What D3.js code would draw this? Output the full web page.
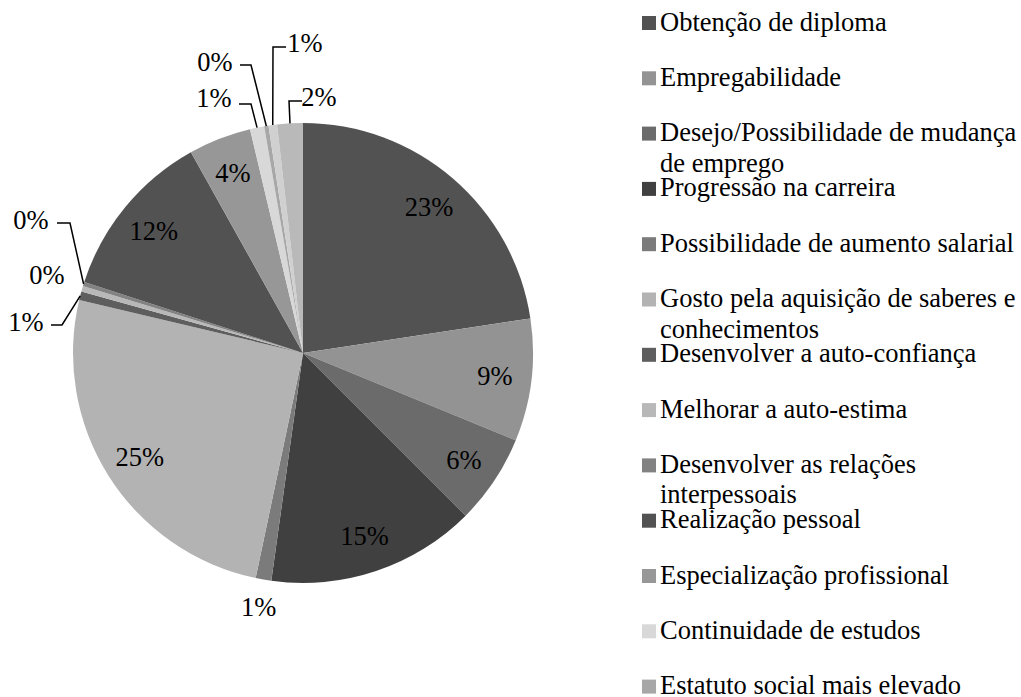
<!DOCTYPE html>
<html>
<head>
<meta charset="utf-8">
<script src="https://cdn.jsdelivr.net/npm/d3@7/dist/d3.min.js"></script>
<style>
  html, body { margin: 0; padding: 0; background: #fff; }
  svg { display: block; }
</style>
</head>
<body>
<svg id="chart" width="1021" height="697"></svg>
<script>
// Categories (legend order = slice order, clockwise from 12 o'clock)
const categories = [
  "Obtenção de diploma",
  "Empregabilidade",
  "Desejo/Possibilidade de mudança|de emprego",
  "Progressão na carreira",
  "Possibilidade de aumento salarial",
  "Gosto pela aquisição de saberes e|conhecimentos",
  "Desenvolver a auto-confiança",
  "Melhorar a auto-estima",
  "Desenvolver as relações|interpessoais",
  "Realização pessoal",
  "Especialização profissional",
  "Continuidade de estudos",
  "Estatuto social mais elevado",
  "",
  ""
];
// Share of each answer (%)
const values = [22.6, 8.6, 6.3, 14.7, 1.1, 25.4, 0.6, 0.4, 0.3, 11.9, 4.4, 1.0, 0.3, 0.6, 1.8];
const colors = ["#525252", "#939393", "#6b6b6b", "#404040", "#7b7b7b", "#b3b3b3", "#5e5e5e",
                "#b8b8b8", "#828282", "#525252", "#979797", "#d8d8d8", "#a7a7a7", "#d0d0d0", "#b9b9b9"];

const FONT = "'Liberation Serif', 'Tinos', 'DejaVu Serif', serif";
const svg = d3.select("#chart");
const cx = 303, cy = 353, R = 230;
const fontSize = 26.5;

const total = d3.sum(values);
const pie = d3.pie().sort(null).value(d => d);
const arcs = pie(values);
const arc = d3.arc().innerRadius(0).outerRadius(R);
const labelArc = d3.arc().innerRadius(R * 0.84).outerRadius(R * 0.84);
const pct = d => Math.round(d / total * 100) + "%";

const g = svg.append("g").attr("transform", `translate(${cx},${cy})`);

g.selectAll("path.slice")
  .data(arcs)
  .enter().append("path")
  .attr("class", "slice")
  .attr("d", arc)
  .attr("fill", (d, i) => colors[i]);

// Label placement for slices whose label sits outside (offsets relative to centre)
const outside = {
  4:  { text: "radial", r: 258 },
  6:  { text: [-277, -31], end: [-252, -28], elbow: [-241, -28] },
  7:  { text: [-256, -78] },
  8:  { text: [-272, -133], end: [-246, -130], elbow: [-233, -130] },
  11: { text: [-89, -255], end: [-64, -249], elbow: [-52, -249] },
  12: { text: [-88, -291], end: [-63, -288], elbow: [-52, -288] },
  13: { text: [2, -310], end: [-17, -306], elbow: [-30, -306] },
  14: { text: [16, -256], end: [-1, -252], elbow: [-14, -252] }
};

const mid = d => (d.startAngle + d.endAngle) / 2;
arcs.forEach((d, i) => {
  const o = outside[i];
  let pos;
  if (!o) {
    pos = labelArc.centroid(d);
  } else if (o.text === "radial") {
    const a = mid(d);
    pos = [Math.sin(a) * o.r, -Math.cos(a) * o.r];
  } else {
    pos = o.text;
    if (o.end) {
      const a = mid(d);
      const p0 = [Math.sin(a) * R, -Math.cos(a) * R];
      g.append("polyline")
        .attr("points", [p0, o.elbow, o.end].map(p => p.join(",")).join(" "))
        .attr("fill", "none")
        .attr("stroke", "#000")
        .attr("stroke-width", 1.5);
    }
  }
  g.append("text")
    .attr("x", pos[0])
    .attr("y", pos[1])
    .attr("dy", "0.35em")
    .attr("text-anchor", "middle")
    .attr("font-family", FONT)
    .attr("font-size", fontSize)
    .attr("fill", "#000")
    .text(pct(values[i]));
});

// Legend
const legendX = 642, legendY0 = 23, legendStep = 55.3, sw = 14;
const legend = svg.append("g");
categories.forEach((name, i) => {
  if (!name) return;
  const y = legendY0 + i * legendStep;
  legend.append("rect")
    .attr("x", legendX).attr("y", y - sw / 2)
    .attr("width", sw).attr("height", sw)
    .attr("fill", colors[i]);
  const lines = name.split("|");
  const t = legend.append("text")
    .attr("x", legendX + 18)
    .attr("y", y + 7.5)
    .attr("font-family", FONT)
    .attr("font-size", fontSize)
    .attr("fill", "#000");
  lines.forEach((ln, k) => {
    t.append("tspan")
      .attr("x", legendX + 18)
      .attr("dy", k === 0 ? 0 : 30.5)
      .text(ln);
  });
});
</script>
</body>
</html>
